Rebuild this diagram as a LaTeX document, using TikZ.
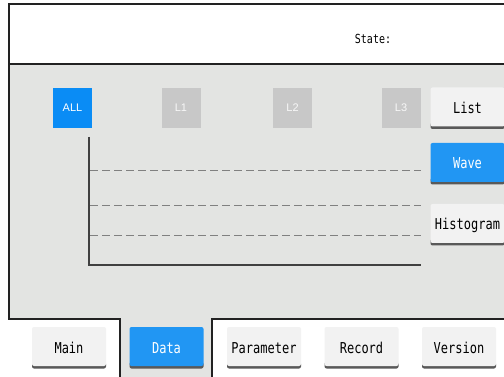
\documentclass[tikz,border=0pt]{standalone}
\usepackage{graphicx}
\usepackage{fontspec}
\setmainfont{DejaVu Sans}
\newfontfamily\monof{DejaVu Sans Mono}
\newfontfamily\sansf{Liberation Sans}
\definecolor{panelgray}{HTML}{E3E4E2}
\definecolor{btnface}{HTML}{F2F2F2}
\definecolor{btnblue}{HTML}{2196F3}
\definecolor{allblue}{HTML}{0A8CF5}
\definecolor{chgray}{HTML}{C8C8C8}
\definecolor{frame}{HTML}{222222}
\newcommand{\tall}[1]{\scalebox{1}[1.25]{#1}}
\tikzset{
  btn/.style={rounded corners=2pt, fill=btnface, minimum width=74pt, minimum height=39pt, inner sep=0pt,
    text height=13pt, text depth=0pt,
    font=\monof\fontsize{12}{12}\selectfont, text=black},
  btnsel/.style={btn, fill=btnblue, text=white},
  chan/.style={fill=chgray, minimum width=39pt, minimum height=40pt, inner sep=0pt,
    font=\sansf\fontsize{11}{11}\selectfont, text=white!88!chgray},
  chansel/.style={chan, fill=allblue, text=white},
  shadowbar/.style={fill=black!65, rounded corners=2pt},
  frameline/.style={draw=frame, line width=1.3pt},
  gridline/.style={draw=black!50, line width=0.9pt, dash pattern=on 8pt off 4pt},
  axisline/.style={draw=black!75, line width=1.6pt}
}
\newcommand{\mybutton}[5]{% name, style, cx, cy, text
  \fill[shadowbar] ({#3-37},{-(#4+19.5)+4}) rectangle ({#3+37},{-(#4+19.5)-2.5});
  \node[#2] (#1) at (#3,-#4) {\tall{#5}};
}
\begin{document}
\begin{tikzpicture}[x=1pt,y=1pt]
\useasboundingbox (0,0) rectangle (504,-377);
\fill[white] (0,0) rectangle (504,-377);
% gray panel with Data tab
\fill[panelgray] (9,-64) -- (504,-64) -- (504,-319) -- (212,-319) -- (212,-377) -- (120,-377) -- (120,-319) -- (9,-319) -- cycle;
% frame
\draw[frameline] (504,-4) -- (9,-4) -- (9,-319) -- (120,-319) -- (120,-377);
\draw[frameline] (212,-377) -- (212,-319) -- (504,-319);
\draw[frameline] (9,-64) -- (504,-64);
% state
\node[font=\monof\fontsize{10}{10}\selectfont] (state) at (373,-39) {\tall{State:}};
% channel buttons
\node[chansel] (all) at (72.5,-108) {ALL};
\node[chan] (l1) at (181,-108) {L1};
\node[chan] (l2) at (292.5,-108) {L2};
\node[chan] (l3) at (401,-108) {L3};
% chart
\coordinate (top) at (89,-137);
\coordinate (orig) at (89,-265);
\coordinate (rend) at (421,-265);
\draw[gridline] (90,-170) -- (421,-170);
\draw[gridline] (90,-205) -- (421,-205);
\draw[gridline] (90,-235) -- (421,-235);
\draw[axisline] (top) -- (orig) -- (rend);
% side buttons
\mybutton{list}{btn}{467.5}{107}{List}
\mybutton{wave}{btnsel}{467.5}{162.5}{Wave}
\mybutton{hist}{btn}{467.5}{223.5}{Histogram}
% bottom buttons
\mybutton{main}{btn}{69}{346.5}{Main}
\mybutton{data}{btnsel}{166.5}{346.5}{Data}
\mybutton{param}{btn}{264}{346.5}{Parameter}
\mybutton{record}{btn}{361.5}{346.5}{Record}
\mybutton{version}{btn}{459}{346.5}{Version}
\end{tikzpicture}
\end{document}
